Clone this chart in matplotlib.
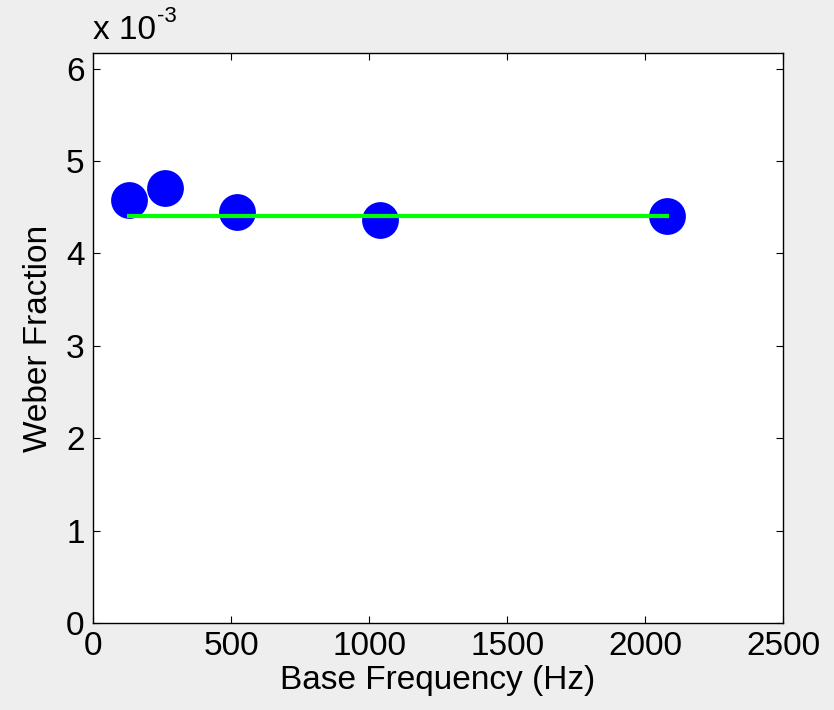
import numpy as np
import matplotlib.pyplot as plt
from matplotlib.ticker import FuncFormatter

plt.rcParams['font.family'] = ['Liberation Sans', 'DejaVu Sans']

# measured data
freqs = [130, 260, 520, 1040, 2080]
weber = [4.58e-3, 4.71e-3, 4.45e-3, 4.36e-3, 4.40e-3]

# fitted (flat) line
fit_x = [130, 2080]
fit_y = [4.40e-3, 4.40e-3]

x_ticks = [0, 500, 1000, 1500, 2000, 2500]
y_ticks = [0, 1e-3, 2e-3, 3e-3, 4e-3, 5e-3, 6e-3]

fig = plt.figure(figsize=(8.34, 7.10), dpi=100, facecolor='#eeeeee')
ax = fig.add_axes([0.1115, 0.1225, 0.8275, 0.803])

ax.plot(fit_x, fit_y, color='#00ff00', lw=3, zorder=3)
ax.plot(freqs, weber, 'o', color='#0000ff', markersize=26.5, markeredgewidth=0, zorder=2)

ax.set_xlim(0, 2500)
ax.set_ylim(0, 6.17e-3)
ax.set_xticks(x_ticks)
ax.set_yticks(y_ticks)
ax.yaxis.set_major_formatter(FuncFormatter(lambda v, p: '%g' % round(v * 1e3, 6)))

ax.tick_params(direction='in', length=5, width=0.8, top=True, right=True,
               labelsize=24, pad=6)
for s in ax.spines.values():
    s.set_linewidth(1.0)

ax.set_xlabel('Base Frequency (Hz)', fontsize=24, labelpad=2)
ax.set_ylabel('Weber Fraction', fontsize=24, labelpad=9)

# MATLAB-style exponent label
t1 = ax.text(0.0, 1.012, 'x 10', transform=ax.transAxes, fontsize=24,
             ha='left', va='bottom')
ax.annotate('-3', xy=(1.02, 0.62), xycoords=t1, fontsize=16,
            ha='left', va='bottom')

fig.savefig('out.png', dpi=100, facecolor=fig.get_facecolor())
